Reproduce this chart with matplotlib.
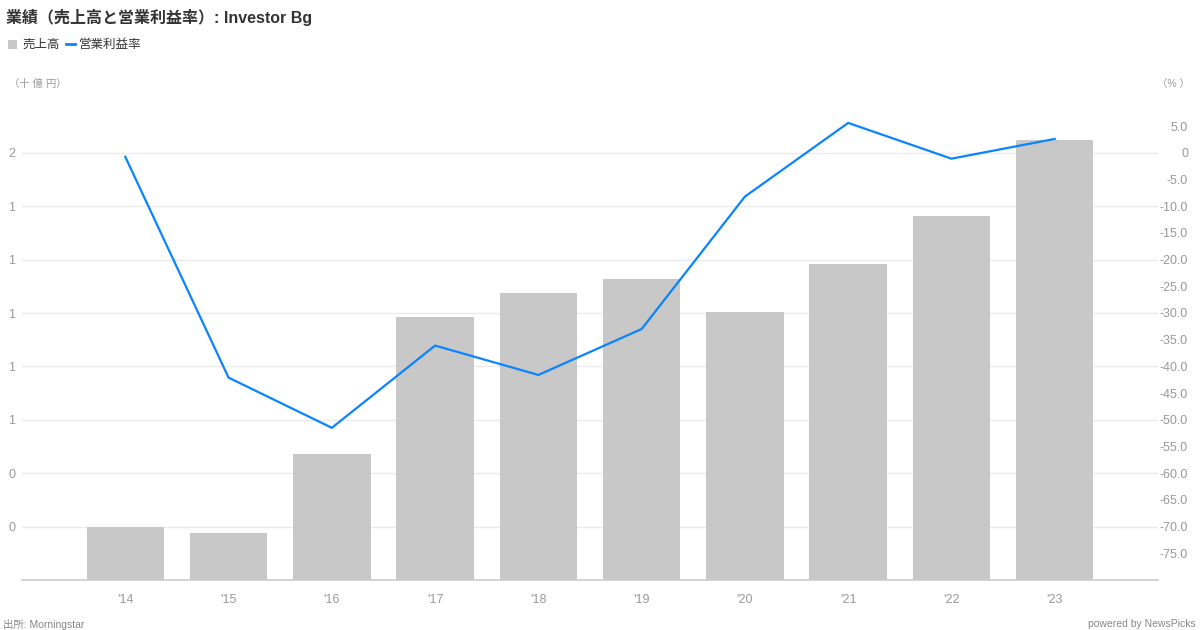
import matplotlib
matplotlib.use("Agg")
import matplotlib.pyplot as plt
from matplotlib.lines import Line2D
from matplotlib.patches import Rectangle

plt.rcParams['font.family'] = ['Liberation Sans', 'Noto Sans CJK JP', 'DejaVu Sans']

years = ["'14", "'15", "'16", "'17", "'18", "'19", "'20", "'21", "'22", "'23"]
sales = [0.60, 0.577, 0.873, 1.386, 1.476, 1.528, 1.404, 1.584, 1.764, 2.049]
margin = [-0.75, -42.1, -51.5, -36.1, -41.6, -33.0, -8.2, 5.6, -1.1, 2.6]
left_ticks = [0.6, 0.8, 1.0, 1.2, 1.4, 1.6, 1.8, 2.0]
right_ticks = [5, 0, -5, -10, -15, -20, -25, -30, -35, -40, -45, -50, -55, -60, -65, -70, -75]

W, H = 1200, 630
fig = plt.figure(figsize=(12, 6.3), dpi=100)
fig.patch.set_facecolor('white')

ax = fig.add_axes([22 / W, 1 - 580 / H, (1158 - 22) / W, (580 - 99.4) / H])
ax2 = ax.twinx()
ax2.set_zorder(ax.get_zorder() + 1)
ax2.patch.set_visible(False)

x = list(range(len(years)))
ax.bar(x, sales, width=0.75, color='#c8c8c8', zorder=2)
ax.set_xlim(-1, 10)
ax.set_ylim(0.4, 2.2)
ax.set_yticks(left_ticks)
ax.set_yticklabels([str(int(round(v, 6))) for v in left_ticks])
ax.yaxis.grid(True, color='#ebebeb', linewidth=1, zorder=0)
ax.set_axisbelow(True)
ax.set_xticks(x)
ax.set_xticklabels(years)
ax.tick_params(axis='x', length=0, pad=10, labelsize=9, labelcolor='#999999')
ax.tick_params(axis='y', length=0, pad=5, labelsize=9, labelcolor='#999999')
for s in ['top', 'right', 'left']:
    ax.spines[s].set_visible(False)
ax.spines['bottom'].set_color('#cccccc')
ax.spines['bottom'].set_linewidth(1.2)

ax2.plot(x, margin, color='#0a84ff', linewidth=1.6, zorder=3)
ax2.set_ylim(-80, 10)
ax2.set_yticks(right_ticks)
ax2.set_yticklabels(['0' if v == 0 else f'{v:.1f}' for v in right_ticks])
ax2.tick_params(axis='y', length=0, pad=21.6, labelsize=9, labelcolor='#999999')
for lab in ax2.get_yticklabels():
    lab.set_horizontalalignment('right')
for s in ax2.spines.values():
    s.set_visible(False)

fig.text(6 / W, 1 - 17 / H, '業績（売上高と営業利益率）: Investor Bg', fontsize=11.5, fontweight='bold',
         color='#333333', va='center', ha='left')

# legend
fig.patches.append(Rectangle((8 / W, 1 - 49 / H), 9 / W, 9 / H, transform=fig.transFigure,
                             facecolor='#c8c8c8', edgecolor='none'))
fig.text(22 / W, 1 - 45 / H, '売上高', fontsize=9, color='#333333', va='center', ha='left')
fig.lines.append(Line2D([66 / W, 75 / W], [1 - 44 / H, 1 - 44 / H], transform=fig.transFigure,
                        color='#0a84ff', linewidth=2))
fig.text(79 / W, 1 - 45 / H, '営業利益率', fontsize=9, color='#333333', va='center', ha='left')

fig.text(9 / W, 1 - 84 / H, '（十 億 円）', fontsize=7.5, color='#999999', va='center', ha='left')
fig.text(1190 / W, 1 - 84 / H, '（% ）', fontsize=7.5, color='#999999', va='center', ha='right')

fig.text(3 / W, 1 - 624 / H, '出所: Morningstar', fontsize=7.5, color='#888888', va='center', ha='left')
fig.text(1196 / W, 1 - 624 / H, 'powered by NewsPicks', fontsize=7.5, color='#888888', va='center', ha='right')

fig.savefig('out.png', dpi=100, facecolor='white')
